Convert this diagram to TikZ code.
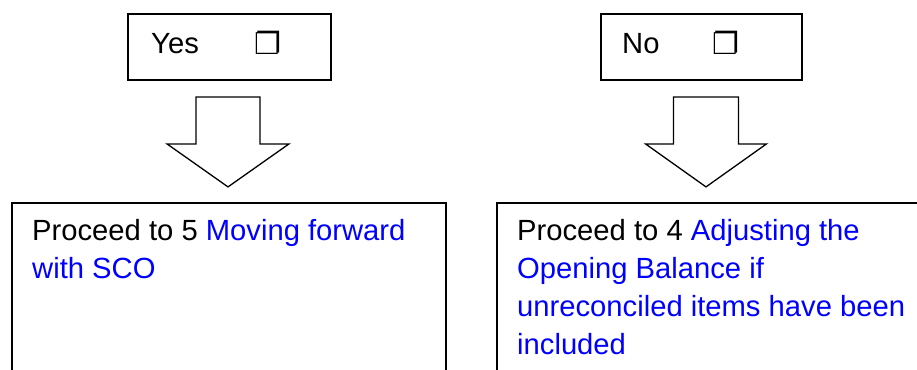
\documentclass[tikz,border=0pt]{standalone}
\usepackage{fontspec}
\setmainfont{Liberation Sans}
\newfontfamily\dingfont{DejaVu Sans}
\usetikzlibrary{calc}
\definecolor{linkblue}{RGB}{0,0,255}
\begin{document}
\begin{tikzpicture}[x=1pt,y=-1pt,
  choice/.style={draw, line width=1.8pt, minimum width=203pt, minimum height=66pt, inner sep=0pt},
  panel/.style={draw, line width=1.8pt, anchor=north west, inner sep=0pt},
  choicetext/.style={font=\fontsize{29.2}{38}\selectfont, inner sep=0pt, anchor=base west},
  boxglyph/.style={font=\dingfont\fontsize{30}{30}\selectfont, inner sep=0pt, anchor=base west},
  blockarrow/.style={draw, line width=1.3pt, fill=white, line join=miter},
  body/.style={font=\fontsize{29.2}{38.3}\selectfont, inner sep=0pt, anchor=base west, align=left},
]
\useasboundingbox (0,0) rectangle (917,369);
\clip (0,0) rectangle (917,369);

% the two answer boxes
\node[choice] (yes) at (229.5,47) {};
\node[choicetext] (yesword) at (151,54) {Yes};
\node[boxglyph] (yesmark) at (254,55) {❐};

\node[choice, minimum width=201pt] (no) at (701.5,47) {};
\node[choicetext] (noword) at (622,54) {No};
\node[boxglyph] (nomark) at (712,55) {❐};

% the two outcome panels, running off the page edge
\node[panel, minimum width=434pt, minimum height=220pt] (lpanel) at (11,202) {};
% base anchor sits on the last line of a multi-line node
\node[body] (ltext) at ($(lpanel.north west)+(21,76.3)$)
  {Proceed to 5 \textcolor{linkblue}{Moving forward}\\\textcolor{linkblue}{with SCO}};

\node[panel, minimum width=480pt, minimum height=220pt] (rpanel) at (496,202) {};
\node[body] (rtext) at ($(rpanel.north west)+(21,152.9)$)
  {Proceed to 4 \textcolor{linkblue}{Adjusting the}\\
   \textcolor{linkblue}{Opening Balance if}\\
   \textcolor{linkblue}{unreconciled items have been}\\
   \textcolor{linkblue}{included}};

% block arrows from each answer down to its panel
\coordinate (yarrow) at ($(yes.south)+(-1.5,16)$);
\draw[blockarrow] (yarrow) +(-32,0) -- +(32,0) -- +(32,47) -- +(61,47)
  -- +(0,90) -- +(-61,47) -- +(-32,47) -- cycle;

\coordinate (narrow) at ($(no.south)+(4.5,16)$);
\draw[blockarrow] (narrow) +(-32.5,0) -- +(32.5,0) -- +(32.5,47) -- +(60.5,47)
  -- +(0,90) -- +(-60.5,47) -- +(-32.5,47) -- cycle;
\end{tikzpicture}
\end{document}
